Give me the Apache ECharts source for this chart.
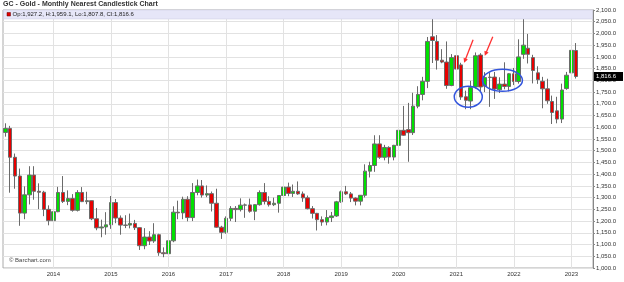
<!DOCTYPE html>
<html><head><meta charset="utf-8">
<script src="https://cdn.jsdelivr.net/npm/echarts@6/dist/echarts.min.js"></script>
<style>html,body{margin:0;padding:0;background:#fff}#c{width:624px;height:282px}</style>
</head><body><div id="c"></div>
<script>
// Monthly categories Mar 2013 .. May 2023 (last three months empty)
const categories = [
 '2013-03','2013-04','2013-05','2013-06','2013-07','2013-08','2013-09','2013-10','2013-11','2013-12',
 '2014-01','2014-02','2014-03','2014-04','2014-05','2014-06','2014-07','2014-08','2014-09','2014-10','2014-11','2014-12',
 '2015-01','2015-02','2015-03','2015-04','2015-05','2015-06','2015-07','2015-08','2015-09','2015-10','2015-11','2015-12',
 '2016-01','2016-02','2016-03','2016-04','2016-05','2016-06','2016-07','2016-08','2016-09','2016-10','2016-11','2016-12',
 '2017-01','2017-02','2017-03','2017-04','2017-05','2017-06','2017-07','2017-08','2017-09','2017-10','2017-11','2017-12',
 '2018-01','2018-02','2018-03','2018-04','2018-05','2018-06','2018-07','2018-08','2018-09','2018-10','2018-11','2018-12',
 '2019-01','2019-02','2019-03','2019-04','2019-05','2019-06','2019-07','2019-08','2019-09','2019-10','2019-11','2019-12',
 '2020-01','2020-02','2020-03','2020-04','2020-05','2020-06','2020-07','2020-08','2020-09','2020-10','2020-11','2020-12',
 '2021-01','2021-02','2021-03','2021-04','2021-05','2021-06','2021-07','2021-08','2021-09','2021-10','2021-11','2021-12',
 '2022-01','2022-02','2022-03','2022-04','2022-05','2022-06','2022-07','2022-08','2022-09','2022-10','2022-11','2022-12',
 '2023-01','2023-02','2023-03','2023-04','2023-05'
];
const opens = [
 1578,1595,1472,1392,1234,1312,1396,1327,1323,1250,
 1202,1240,1322,1284,1296,1246,1322,1283,1287,1210,1171,1175,
 1184,1279,1213,1183,1183,1190,1172,1095,1132,1115,1142,1065,
 1061,1116,1238,1235,1293,1215,1322,1350,1311,1317,1276,1174,
 1152,1212,1254,1249,1268,1269,1242,1270,1322,1284,1270,1276,
 1309,1345,1318,1327,1316,1299,1253,1233,1206,1196,1215,1222,
 1282,1325,1316,1298,1285,1310,1413,1437,1529,1472,1514,1473,
 1523,1587,1590,1577,1690,1740,1796,1986,1966,1886,1878,1778,
 1905,1866,1730,1712,1772,1908,1775,1812,1814,1760,1784,1774,
 1828,1795,1911,1937,1897,1832,1796,1764,1710,1670,1635,1765,
 1832,1927.2
];
const highs = [
 1617,1606,1488,1424,1348,1434,1434,1361,1329,1267,
 1270,1346,1392,1331,1315,1332,1345,1325,1288,1256,1206,1238,
 1307,1294,1224,1225,1232,1205,1174,1170,1157,1191,1146,1088,
 1126,1263,1287,1304,1306,1362,1377,1375,1352,1326,1338,1180,
 1220,1264,1264,1297,1275,1296,1272,1331,1362,1306,1300,1310,
 1366,1364,1356,1369,1326,1309,1264,1235,1220,1247,1239,1286,
 1330,1350,1324,1301,1311,1442,1453,1566,1566,1525,1519,1525,
 1613,1691,1704,1747,1775,1815,1985,2064,1993,1933,1966,1912,
 1962,1875,1756,1798,1919,1916,1835,1834,1836,1813,1877,1831,
 1853,1975,2078,1998,1909,1860,1815,1807,1735,1730,1786,1836,
 1955,1959.1
];
const lows = [
 1560,1321,1338,1180,1208,1271,1291,1251,1221,1182,
 1195,1238,1277,1268,1240,1241,1281,1272,1204,1161,1131,1142,
 1167,1191,1142,1170,1169,1162,1077,1080,1098,1107,1052,1046,
 1061,1110,1208,1208,1199,1200,1310,1300,1302,1241,1171,1124,
 1146,1200,1196,1241,1214,1236,1204,1266,1271,1262,1264,1236,
 1303,1306,1303,1312,1282,1250,1211,1160,1180,1182,1196,1218,
 1278,1311,1281,1267,1267,1301,1386,1410,1465,1459,1445,1459,
 1521,1563,1453,1567,1681,1715,1767,1874,1846,1873,1764,1775,
 1802,1717,1677,1677,1765,1750,1750,1687,1721,1746,1762,1753,
 1780,1786,1892,1872,1787,1785,1681,1700,1614,1617,1618,1760,
 1823,1807.8
];
const closes = [
 1595,1472,1392,1234,1312,1396,1327,1323,1250,1202,
 1240,1322,1284,1296,1246,1322,1283,1287,1210,1171,1175,1184,
 1279,1213,1183,1182,1190,1172,1095,1132,1115,1142,1065,1061,
 1116,1238,1235,1293,1215,1322,1350,1311,1317,1276,1174,1152,
 1212,1254,1249,1268,1269,1242,1270,1322,1284,1270,1276,1309,
 1345,1318,1327,1316,1299,1253,1233,1206,1196,1215,1222,1282,
 1325,1316,1298,1285,1310,1413,1437,1529,1472,1514,1473,1523,
 1587,1566,1577,1690,1740,1796,1966,1970,1886,1878,1778,1897,
 1848,1729,1715,1769,1905,1772,1812,1814,1763,1784,1774,1828,
 1795,1900,1950,1911,1842,1803,1764,1713,1663,1635,1759,1822,
 1928,1816.6
];
const yearTickLabels = ['2014','2015','2016','2017','2018','2019','2020','2021','2022','2023'];
const titleText = 'GC - Gold - Monthly Nearest Candlestick Chart';
const creditText = '\u00A9 Barchart.com';

const fmt1 = v => Number(v).toLocaleString('en-US',{minimumFractionDigits:1,maximumFractionDigits:1});
const FONT = '"Liberation Sans", Arial, sans-serif';
const candleData = opens.map((o,i)=>[o, closes[i], lows[i], highs[i]]);
const last = candleData.length - 1;
const yearStarts = yearTickLabels.map(y => y + '-01');

const chart = echarts.init(document.getElementById('c'), null, {renderer:'canvas'});
chart.setOption({
  animation:false,
  grid:{left:3, right:31, top:10, bottom:14, show:true, borderColor:'#aaaaaa', borderWidth:1},
  xAxis:{type:'category', data:categories, boundaryGap:true,
    axisLine:{show:false}, axisTick:{show:false}, splitLine:{show:false},
    axisLabel:{interval:(i,v)=>yearStarts.indexOf(v)>=0, formatter:v=>v.slice(0,4),
      fontSize:6, color:'#333', margin:3, fontFamily:FONT}},
  yAxis:{type:'value', position:'right', min:1000, max:2100, interval:50,
    axisLine:{show:true, lineStyle:{color:'#888'}},
    axisTick:{show:true, length:2, lineStyle:{color:'#888'}},
    axisLabel:{fontSize:6, color:'#333', margin:3, fontFamily:FONT, formatter:fmt1},
    splitLine:{show:true, lineStyle:{color:'#e2e2e2', width:1}}},
  series:[
    {type:'line', data:[], z:1, silent:true,
     markLine:{silent:true, symbol:'none', animation:false, label:{show:false},
       lineStyle:{color:'#e2e2e2', type:'solid', width:1},
       data: yearStarts.map(c=>({xAxis:c}))}},
    {type:'candlestick', z:3, barWidth:4, data:candleData,
     itemStyle:{color:'#00e000', color0:'#e80000', borderColor:'#6a6a6a', borderColor0:'#6a6a6a', borderWidth:1}}
  ]
});

// annotations anchored in data space
function px(cat, val){ return chart.convertToPixel({xAxisIndex:0,yAxisIndex:0}, [categories.indexOf(cat), val]); }
const blue = '#3355dd', red = '#ff3030';
const g = [];
// header band
g.push({type:'rect', shape:{x:3.5, y:10, width:589, height:9}, style:{fill:'#e6e6f8', stroke:'#c8c8e0', lineWidth:0.5}, z:5});
g.push({type:'rect', shape:{x:7, y:12.5, width:3.5, height:3.5}, style:{fill:'#e00000', stroke:'#600', lineWidth:0.5}, z:6});
g.push({type:'text', left:12.5, top:11.5, z:6, style:{text:'Op:'+fmt1(opens[last])+', H:'+fmt1(highs[last])+', Lo:'+fmt1(lows[last])+', Cl:'+fmt1(closes[last]), fill:'#222', font:'6px '+FONT}});
g.push({type:'text', left:3, top:0.5, z:6, style:{text:titleText, fill:'#333', font:'bold 7px '+FONT}});
g.push({type:'text', left:9, top:257.5, z:6, style:{text:creditText, fill:'#444', font:'6px '+FONT}});
// last price box on the value axis
const lp = px(categories[last], closes[last]);
g.push({type:'rect', z:6, shape:{x:594, y:lp[1]-4.5, width:29, height:9}, style:{fill:'#000'}});
g.push({type:'text', z:7, x:596, y:lp[1], style:{text:fmt1(closes[last]), fill:'#fff', font:'6px '+FONT, verticalAlign:'middle', align:'left'}});
// ellipses
const e1a = px('2021-03',1730), e1b = px('2021-04',1730);
g.push({type:'ellipse', z:6, shape:{cx:(e1a[0]+e1b[0])/2, cy:e1a[1], rx:14, ry:10.5}, style:{fill:'none', stroke:blue, lineWidth:1.5}});
const e2 = px('2021-10',1800);
g.push({type:'ellipse', z:6, shape:{cx:e2[0]+3, cy:e2[1], rx:20, ry:11}, style:{fill:'none', stroke:blue, lineWidth:1.5}});
// arrows
function arrow(tip, dx, dy){
  const tx = tip[0], ty = tip[1], sx = tx+dx, sy = ty+dy;
  const L = Math.hypot(dx,dy), ux = -dx/L, uy = -dy/L, nx = -uy, ny = ux, hl = 4.5, hw = 2.3;
  g.push({type:'line', z:6, shape:{x1:sx,y1:sy,x2:tx-ux*2,y2:ty-uy*2}, style:{stroke:red, lineWidth:1.3}});
  g.push({type:'polygon', z:6, shape:{points:[[tx,ty],[tx-ux*hl+nx*hw, ty-uy*hl+ny*hw],[tx-ux*hl-nx*hw, ty-uy*hl-ny*hw]]}, style:{fill:red}});
}
const a1 = px('2021-02',1875); arrow([a1[0]+3, a1[1]], 9, -23);
const a2 = px('2021-06',1905); arrow([a2[0]+4.5, a2[1]], 8, -19);
chart.setOption({graphic:g});
</script>
</body></html>
